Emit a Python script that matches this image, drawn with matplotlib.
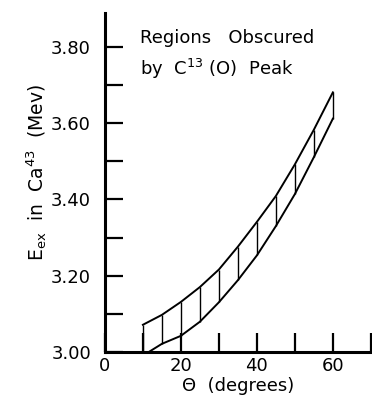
import numpy as np
import matplotlib
matplotlib.use("Agg")
import matplotlib.pyplot as plt

theta = [10, 15, 20, 25, 30, 35, 40, 45, 50, 55, 60]
upper = [3.071, 3.097, 3.131, 3.170, 3.216, 3.276, 3.341, 3.409, 3.492, 3.583, 3.681]
lower = [2.990, 3.021, 3.042, 3.079, 3.130, 3.188, 3.253, 3.330, 3.414, 3.511, 3.612]

x_major = [0, 20, 40, 60]
x_minor = [10, 30, 50, 70]
y_major = [3.00, 3.20, 3.40, 3.60, 3.80]
y_minor = [3.10, 3.30, 3.50, 3.70]

plt.rcParams['font.family'] = ['DejaVu Sans']
plt.rcParams['mathtext.fontset'] = 'dejavusans'

fig = plt.figure(figsize=(3.72, 3.98), dpi=100)
ax = fig.add_axes([0.282, 0.116, 0.718, 0.852])

ax.plot(theta, upper, color='black', lw=1.4)
ax.plot(theta, lower, color='black', lw=1.4)
ax.vlines(theta, lower, upper, color='black', lw=1.0)

ax.set_xlim(0, 70.3)
ax.set_ylim(3.0, 3.89)

ax.spines['top'].set_visible(False)
ax.spines['right'].set_visible(False)
ax.spines['left'].set_linewidth(2.2)
ax.spines['bottom'].set_linewidth(2.2)

ax.set_xticks(x_major)
ax.set_xticks(x_minor, minor=True)
ax.set_yticks(y_major)
ax.set_yticklabels(['%.2f' % v for v in y_major])
ax.set_yticks(y_minor, minor=True)
ax.tick_params(which='both', direction='in', length=13, width=1.6, labelsize=13)
ax.tick_params(axis='y', which='both', pad=10)
ax.tick_params(axis='x', which='both', length=14, pad=4)

ax.set_xlabel('Θ  (degrees)', fontsize=13, labelpad=1)
ax.set_ylabel(r'E$_{\rm ex}$  in  Ca$^{43}$  (Mev)', fontsize=13.5)
ax.yaxis.set_label_coords(-0.21, 0.53)

ax.text(0.13, 0.91, 'Regions   Obscured', transform=ax.transAxes, fontsize=13)
ax.text(0.13, 0.815, r'by  C$^{13}$ (O)  Peak', transform=ax.transAxes, fontsize=13)

fig.savefig('out.png', dpi=100)
